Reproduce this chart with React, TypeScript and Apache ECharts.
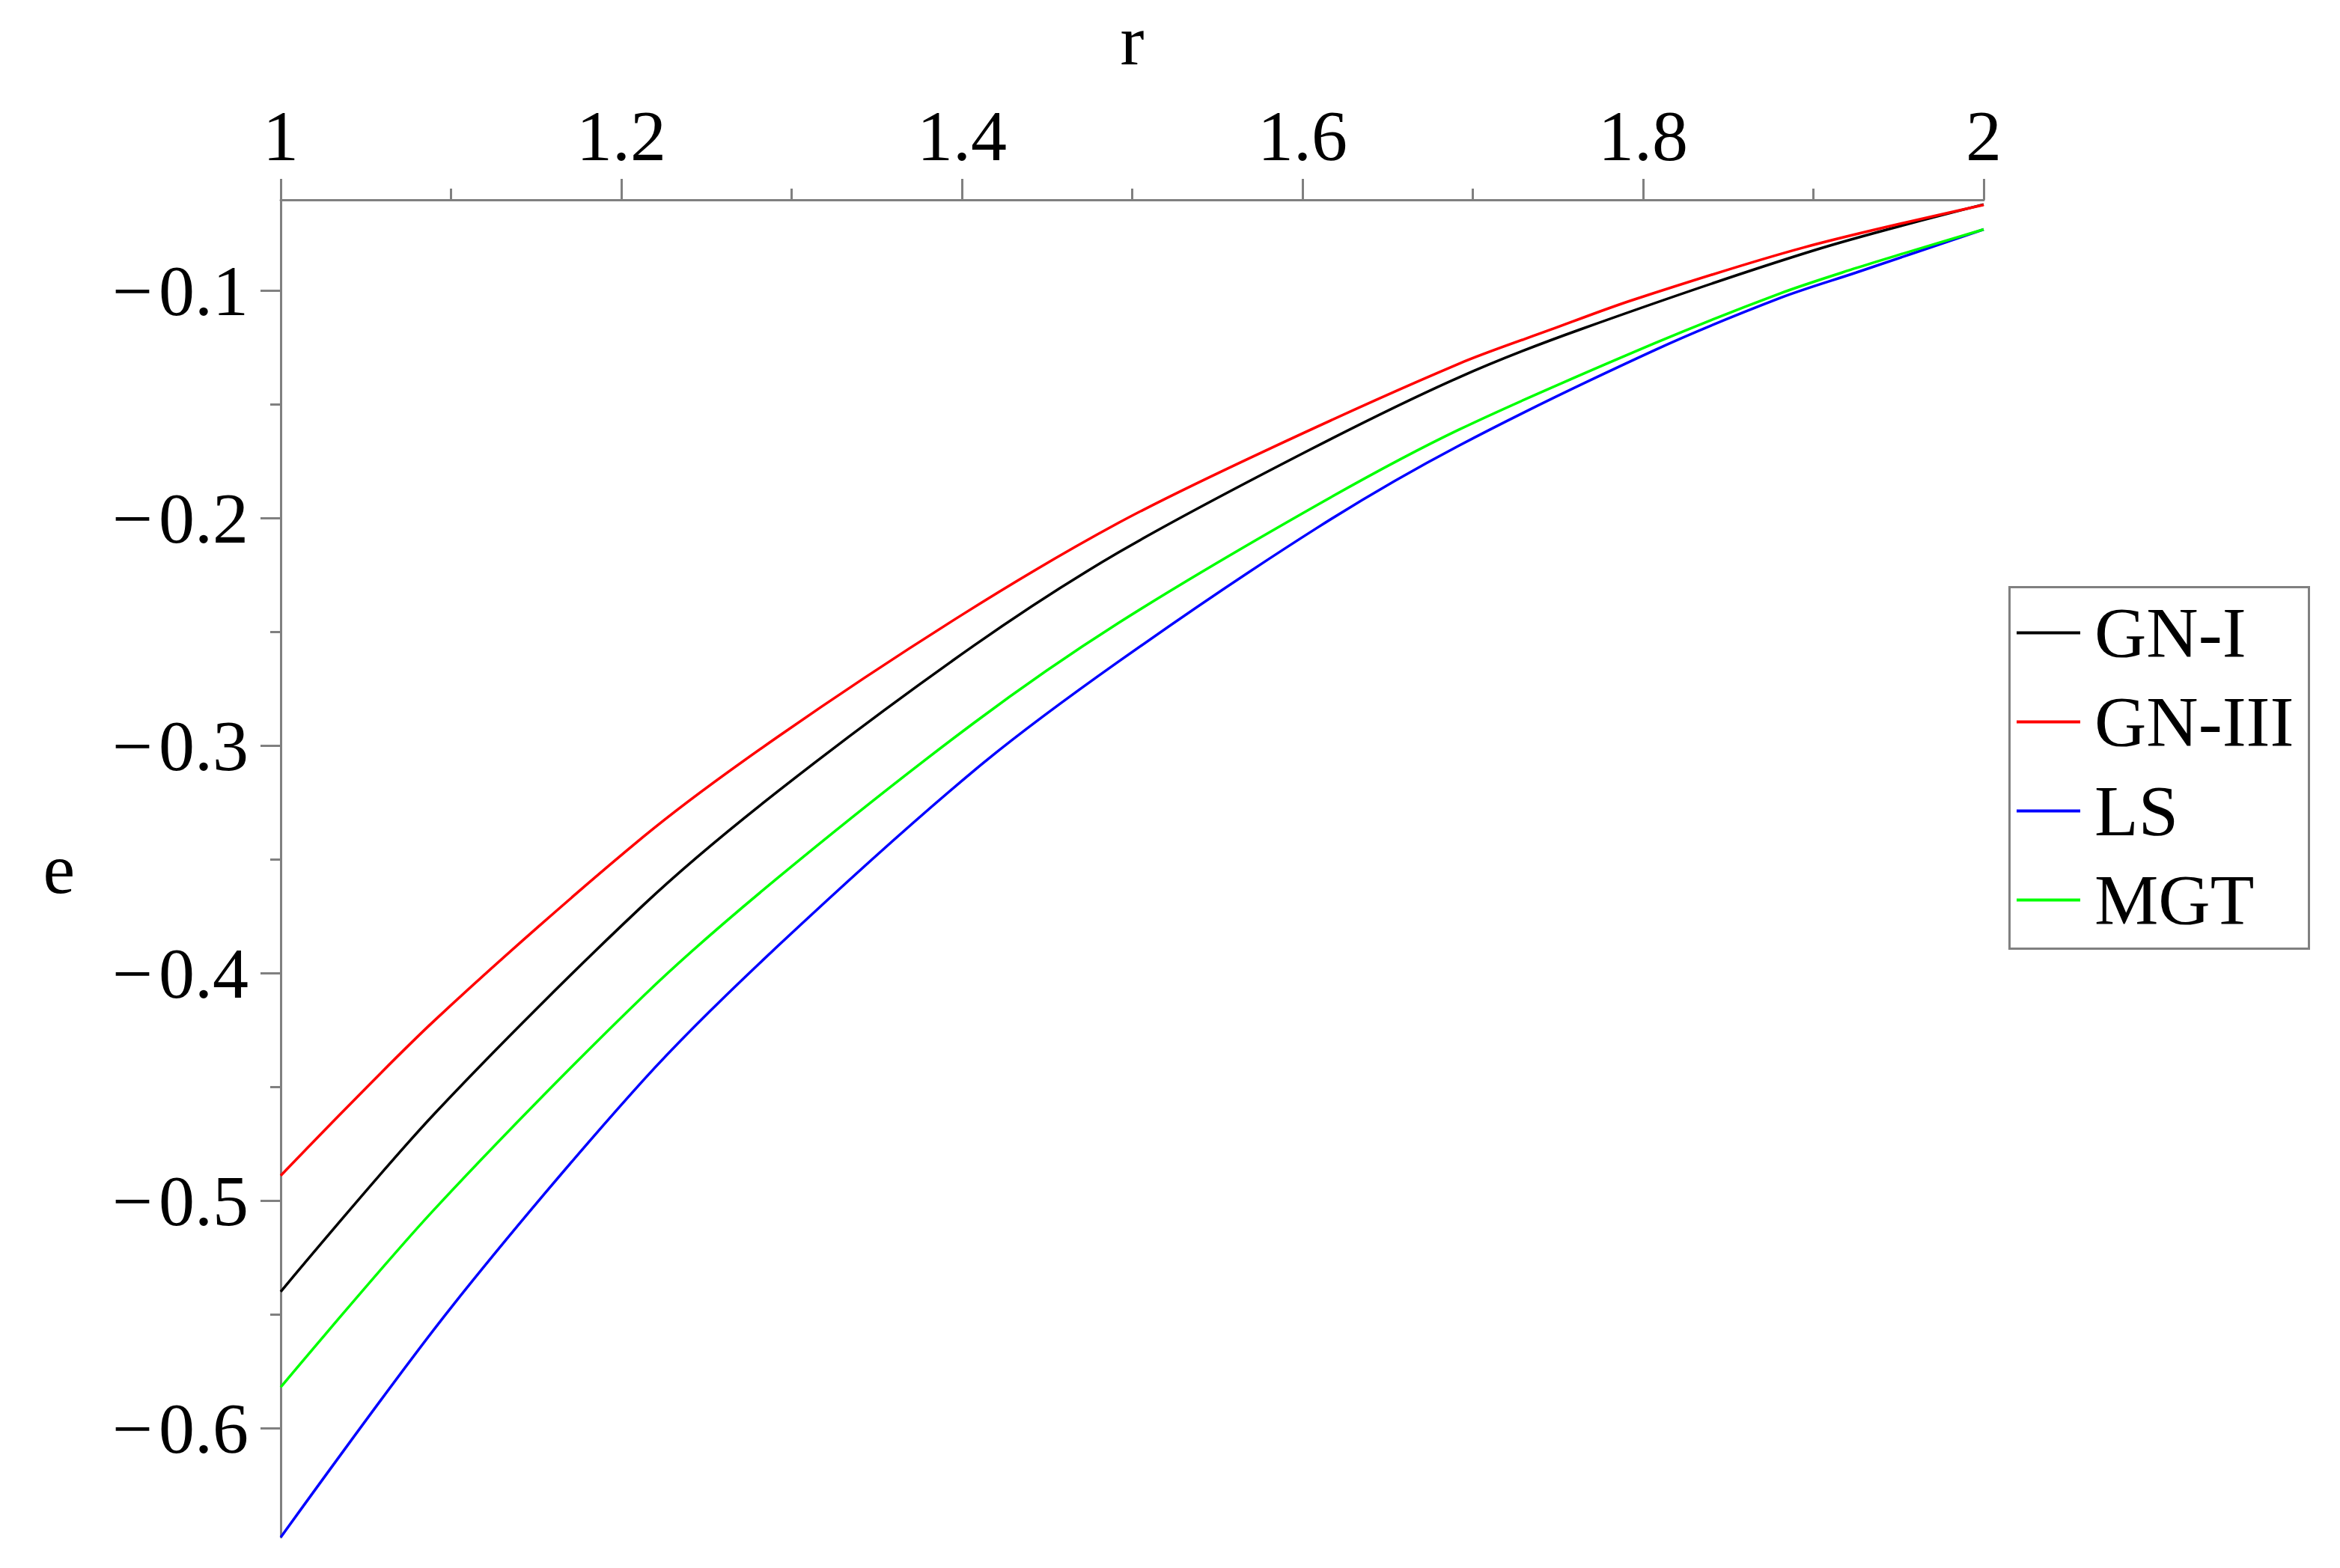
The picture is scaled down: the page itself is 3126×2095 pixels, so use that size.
import React, { useEffect, useRef } from "react";
import * as echarts from "echarts";

// GN-I (black)
const rGN1 = [1.0, 1.09, 1.213, 1.292, 1.407, 1.492, 1.604, 1.692, 1.763, 1.9, 2.0];
const eGN1 = [-0.54, -0.462, -0.37, -0.32, -0.256, -0.215, -0.17, -0.138, -0.117, -0.0823, -0.062];
// GN-III (red)
const rGN3 = [1.0, 1.09, 1.213, 1.292, 1.401, 1.492, 1.579, 1.692, 1.746, 1.794, 1.894, 2.0];
const eGN3 = [-0.489, -0.421, -0.34, -0.296, -0.242, -0.202, -0.17, -0.132, -0.117, -0.104, -0.081, -0.0622];
// LS (blue)
const rLS = [1.0, 1.099, 1.213, 1.292, 1.407, 1.492, 1.609, 1.692, 1.807, 1.881, 1.925, 2.0];
const eLS = [-0.648, -0.548, -0.447, -0.388, -0.311, -0.263, -0.204, -0.168, -0.126, -0.103, -0.092, -0.073];
// MGT (green)
const rMGT = [1.0, 1.09, 1.213, 1.292, 1.407, 1.492, 1.609, 1.692, 1.807, 1.881, 1.925, 1.951, 2.0];
const eMGT = [-0.582, -0.504, -0.41, -0.358, -0.29, -0.246, -0.194, -0.161, -0.123, -0.101, -0.09, -0.084, -0.073];

const seriesNames = ["GN-I", "GN-III", "LS", "MGT"];
const seriesColors = ["#000000", "#ff0000", "#0000ff", "#00ff00"];
const yMajorTicks = [-0.6, -0.5, -0.4, -0.3, -0.2, -0.1];
const yMinorTicks = [-0.55, -0.45, -0.35, -0.25, -0.15];

const FONT = "'Liberation Serif', 'Times New Roman', serif";
const AXIS_GRAY = "#808080";

function pairs(xs: number[], ys: number[]) {
  return xs.map((x, i) => [x, ys[i]]);
}

export default function App() {
  const ref = useRef<HTMLDivElement>(null);
  useEffect(() => {
    if (!ref.current) return;
    const chart = echarts.init(ref.current, null, { renderer: "svg" });
    const datasets = [pairs(rGN1, eGN1), pairs(rGN3, eGN3), pairs(rLS, eLS), pairs(rMGT, eMGT)];
    chart.setOption({
      animation: false,
      backgroundColor: "#ffffff",
      grid: { left: 375, right: 476, top: 265, bottom: 41, containLabel: false },
      xAxis: {
        type: "value",
        position: "top",
        min: 1,
        max: 2,
        interval: 0.2,
        name: "r",
        nameLocation: "middle",
        nameGap: 166,
        nameTextStyle: { fontFamily: FONT, fontSize: 96, color: "#000" },
        axisLine: { show: true, onZero: false, lineStyle: { color: AXIS_GRAY, width: 3 } },
        axisTick: { show: true, length: 28, lineStyle: { color: AXIS_GRAY, width: 3 } },
        minorTick: { show: true, splitNumber: 2, length: 15, lineStyle: { color: AXIS_GRAY, width: 3 } },
        axisLabel: {
          fontFamily: FONT,
          fontSize: 96,
          color: "#000",
          margin: 38,
          formatter: (v: number) => String(Math.round(v * 10) / 10),
        },
        splitLine: { show: false },
        minorSplitLine: { show: false },
      },
      yAxis: [
        {
          type: "value",
          position: "left",
          min: -0.648,
          max: -0.06,
          name: "e",
          nameLocation: "middle",
          nameRotate: 0,
          nameGap: 275,
          nameTextStyle: { fontFamily: FONT, fontSize: 96, color: "#000" },
          axisLine: { show: true, onZero: false, lineStyle: { color: AXIS_GRAY, width: 3 } },
          axisTick: { show: true, length: 27, customValues: yMajorTicks, lineStyle: { color: AXIS_GRAY, width: 3 } },
          axisLabel: {
            fontFamily: FONT,
            fontSize: 96,
            color: "#000",
            margin: 43,
            customValues: yMajorTicks,
            formatter: (v: number) => "\u2212\u200A" + Math.abs(v).toFixed(1),
          },
          splitLine: { show: false },
        },
        {
          type: "value",
          position: "left",
          min: -0.648,
          max: -0.06,
          axisLine: { show: false },
          axisTick: { show: true, length: 14, customValues: yMinorTicks, lineStyle: { color: AXIS_GRAY, width: 3 } },
          axisLabel: { show: false },
          splitLine: { show: false },
        },
      ],
      legend: {
        orient: "vertical",
        left: 2694,
        top: 786,
        padding: 0,
        itemGap: 0,
        itemWidth: 85,
        itemHeight: 4,
        icon: "rect",
        data: seriesNames,
        textStyle: {
          fontFamily: FONT,
          fontSize: 96,
          color: "#000",
          lineHeight: 119,
          padding: [0, 0, 0, 14],
        },
      },
      graphic: [
        {
          type: "rect",
          left: 2682,
          top: 782,
          z: -1,
          shape: { width: 400, height: 483 },
          style: { fill: "none", stroke: AXIS_GRAY, lineWidth: 3 },
        },
      ],
      series: datasets.map((d, i) => ({
        name: seriesNames[i],
        type: "line",
        data: d,
        yAxisIndex: 0,
        smooth: 0.3,
        symbol: "none",
        color: seriesColors[i],
        itemStyle: { color: seriesColors[i] },
        lineStyle: { color: seriesColors[i], width: 3.5 },
      })),
    });
    return () => chart.dispose();
  }, []);
  return (
    <div
      ref={ref}
      style={{ position: "fixed", left: 0, top: 0, width: 3126, height: 2095, background: "#fff" }}
    />
  );
}
